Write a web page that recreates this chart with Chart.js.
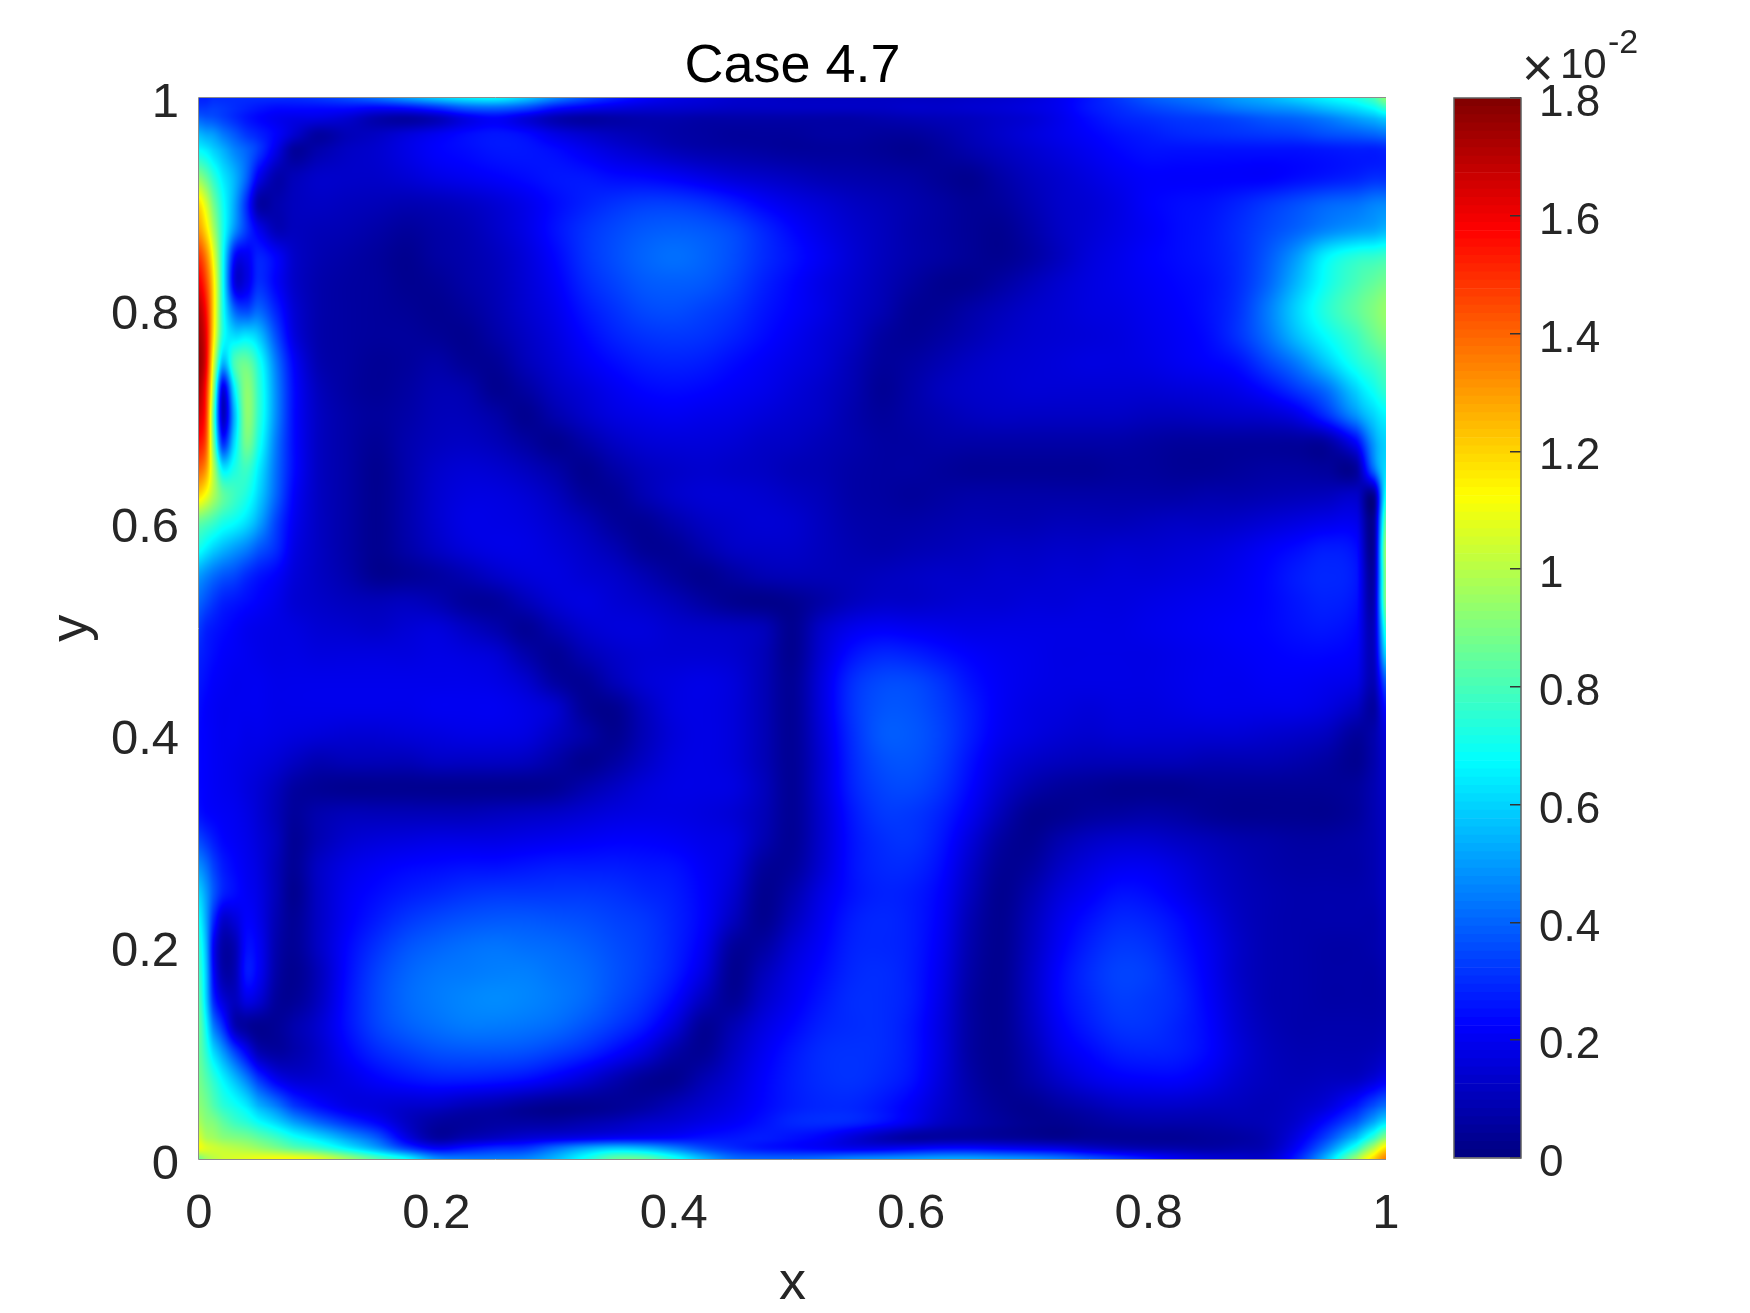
<!DOCTYPE html>
<html>
<head>
<meta charset="utf-8">
<title>Case 4.7</title>
<script src="https://cdn.jsdelivr.net/npm/chart.js@4"></script>
<style>
html, body { margin: 0; padding: 0; background: #fff; }
#page { position: relative; width: 1750px; height: 1313px; overflow: hidden; font-family: "Liberation Sans", Arial, sans-serif; }
canvas { position: absolute; left: 0; top: 0; }
.mult { position: absolute; color: #262626; line-height: 1; white-space: nowrap; }
</style>
</head>
<body>
<div id="page">
<canvas id="field-chart" width="1750" height="1313"></canvas>
<canvas id="bar-chart" width="1750" height="1313"></canvas>
<span class="mult" style="left:1522px;top:40px;font-size:54px;">×</span>
<span class="mult" style="left:1560px;top:43px;font-size:42px;">10</span>
<span class="mult" style="left:1608px;top:24px;font-size:34px;">-2</span>
</div>
<script>
var titleText = 'Case 4.7';
var xLabel = 'x';
var yLabel = 'y';
var xTicks = [0, 0.2, 0.4, 0.6, 0.8, 1];
var yTicks = [0, 0.2, 0.4, 0.6, 0.8, 1];
var barTicks = [0, 0.2, 0.4, 0.6, 0.8, 1, 1.2, 1.4, 1.6, 1.8];

var gridX = [0, .006, .012, .02, .03, .04, .05, .065, .08, .1,
    .125, .15, .175, .2, .225, .25, .275, .3, .325, .35,
    .375, .4, .425, .45, .475, .5, .525, .55, .575, .6,
    .625, .65, .675, .7, .725, .75, .775, .8, .825, .85,
    .875, .9, .925, .95, .975, .99, 1];
var gridY = [1, .99, .98, .965, .95, .925, .9, .875, .85, .825, .8, .775, .75, .725, .7, .675, .65, .625, .6, .575, .55, .525,
    .5, .475, .45, .425, .4, .375, .35, .325, .3, .275, .25, .225, .2, .175, .15, .125, .1, .075, .05, .035, .02, .01, 0];

// values, in units of 1e-4 (colorbar 1.8 x 10^-2 = 180)
var fieldRows = [
[28,28,30,30,30,30,30,30,30,32, 36,42,50,58,64,66,58,46,36,28, 22,18,16,14,13,12,12,12,12,12, 12,13,14,16,20,26,32,38,42,45, 50,54,60,66,72,80,92],
[32,32,33,32,30,28,26,24,24,24, 24,22,24,30,38,40,35,25,20,17, 15,14,13,12,12,12,12,12,12,13, 13,14,15,17,20,26,30,34,37,40, 44,47,50,56,62,68,76],
[40,38,37,34,30,26,23,20,18,17, 14,8,6,10,18,22,16,9,6,7, 8,8,7,7,7,7,7,7,8,9, 10,11,13,15,19,24,28,30,32,33, 35,38,40,44,50,54,58],
[55,52,50,44,38,32,28,22,14,6, 10,12,16,20,24,26,24,18,14,11, 9,7,6,5,5,5,6,6,5,5, 7,10,13,16,19,22,25,27,29,30, 31,32,33,36,38,40,42],
[68,65,60,54,46,40,32,18,5,8, 12,14,18,22,24,26,26,24,20,16, 13,10,8,7,6,5,5,5,4,3, 5,8,11,14,17,20,23,25,25,25, 25,25,25,26,27,27,28],
[92,85,75,64,54,40,20,8,10,13, 13,13,15,18,20,22,24,26,26,24, 23,21,18,15,13,11,9,8,7,6, 4,3,7,11,14,17,20,22,22,22, 22,22,24,26,28,30,30],
[118,105,88,70,52,30,7,8,11,12, 11,10,9,10,12,15,19,24,28,31, 33,33,31,27,22,18,15,12,10,8, 6,4,5,9,13,15,18,22,24,25, 28,32,36,40,42,45,46],
[130,118,98,72,48,32,20,10,11,10, 9,7,5,7,9,13,18,25,31,35, 38,39,38,35,29,23,18,14,11,8, 6,4,3,7,12,15,18,21,24,26, 30,35,40,46,50,52,55],
[148,135,110,70,24,20,28,22,13,9, 7,5,3,6,8,11,16,23,31,36, 40,42,40,36,30,25,20,15,11,8, 6,4,3,6,11,16,19,22,24,26, 30,38,50,66,74,76,78],
[160,146,118,70,18,18,30,22,13,8, 6,5,3,4,7,10,15,21,29,34, 38,39,38,34,28,23,18,14,10,6, 3,3,6,10,14,17,19,21,23,25, 30,40,55,70,80,85,88],
[170,155,120,72,40,34,40,28,15,8, 6,5,4,3,5,9,14,19,26,31, 35,36,34,31,26,22,18,13,9,4, 4,7,10,13,15,17,18,20,22,25, 31,44,60,74,84,90,94],
[174,160,118,72,62,64,58,36,17,8, 6,5,5,4,3,7,12,17,23,28, 31,32,31,28,24,20,16,12,6,4, 6,9,12,14,15,16,17,19,21,24, 31,42,56,68,78,86,90],
[176,160,108,55,80,86,72,44,22,9, 6,4,5,7,4,4,10,15,20,24, 27,28,27,24,21,18,15,10,5,6, 9,12,14,15,16,17,17,18,20,22, 25,34,44,58,72,78,82],
[172,152,95,18,65,92,76,47,24,11, 6,4,6,9,8,3,6,12,16,20, 23,24,23,21,19,16,13,9,4,7, 11,13,14,15,15,15,15,15,16,17, 19,24,32,42,60,70,76],
[165,148,85,12,55,92,76,47,24,12, 7,5,7,10,10,7,3,8,13,17, 19,20,19,18,16,14,12,8,5,7, 9,11,12,12,12,12,12,11,11,12, 13,14,18,30,48,60,66],
[155,142,90,30,62,88,72,44,24,12, 7,4,8,11,12,10,6,3,7,12, 15,16,16,15,13,12,10,8,6,6, 7,7,7,7,7,7,7,6,5,5, 5,5,5,6,22,50,60],
[140,130,100,65,72,78,65,42,24,12, 7,3,8,13,15,14,11,7,3,7, 11,13,14,13,12,10,9,7,6,6, 5,4,4,4,4,4,5,5,4,4, 5,6,6,5,5,42,62],
[118,110,98,85,78,72,60,40,22,12, 7,3,8,14,17,17,15,11,5,4, 9,13,15,15,14,12,10,7,6,5, 6,7,7,7,7,7,7,7,7,8, 8,9,10,11,13,4,70],
[85,82,78,72,68,62,52,34,20,12, 7,3,8,14,18,18,17,14,10,5, 4,8,12,14,15,14,11,8,7,7, 8,9,9,9,10,10,10,11,12,12, 13,15,17,19,19,5,85],
[70,65,60,55,50,45,38,30,18,12, 7,3,7,12,16,18,18,16,13,9, 4,4,8,12,13,13,11,9,8,9, 10,11,12,12,13,13,14,14,15,16, 18,21,24,27,24,6,95],
[50,46,42,38,35,30,26,22,16,12, 8,3,4,6,9,13,16,17,15,13, 9,5,3,6,9,10,10,10,11,12, 13,13,14,14,15,15,16,16,17,18, 20,23,27,29,26,8,92],
[40,36,32,28,26,24,22,19,15,13, 11,10,11,9,5,5,10,15,17,15, 13,10,6,3,2,3,7,11,13,13, 14,15,15,16,16,17,17,18,19,20, 21,23,26,28,25,10,90],
[32,28,26,24,22,20,19,18,17,15, 14,13,15,16,12,8,4,9,14,16, 16,14,13,12,10,3,13,19,21,20, 19,18,18,18,18,18,18,19,20,21, 22,23,25,26,23,12,75],
[28,26,24,22,21,20,19,18,18,17, 17,17,17,18,17,15,8,4,9,13, 15,15,15,14,10,3,15,25,29,28, 25,22,20,19,18,18,18,18,19,20, 21,22,23,23,21,12,60],
[26,24,22,21,20,20,20,19,19,19, 19,19,19,19,19,18,14,6,4,10, 15,17,18,16,10,4,17,30,35,35, 31,25,21,19,18,18,18,18,19,20, 20,21,21,20,18,10,38],
[24,22,21,20,20,20,20,19,19,19, 19,19,19,20,20,20,18,14,4,3, 11,17,18,16,10,4,17,31,37,37, 33,27,21,18,17,16,17,17,18,19, 19,19,19,17,12,6,24],
[23,22,21,20,20,19,19,18,17,16, 15,15,16,17,18,18,17,12,7,3, 10,16,18,16,10,4,16,30,38,38, 34,27,20,17,15,14,15,15,15,15, 15,14,13,11,5,8,16],
[23,22,21,20,19,18,17,15,12,9, 10,10,10,12,12,12,11,7,3,6, 12,17,18,16,10,4,15,29,36,37, 33,25,17,13,11,10,10,10,10,9, 9,9,8,6,3,8,14],
[23,22,21,20,19,17,15,11,6,4, 3,3,3,3,3,3,3,4,8,12, 16,18,18,17,11,4,15,28,34,35, 31,23,14,8,5,4,3,3,3,4, 4,4,4,4,5,9,13],
[25,23,22,21,20,18,15,10,5,8, 10,10,10,10,10,11,12,13,15,17, 18,18,17,15,10,4,14,26,32,32, 28,20,10,3,3,5,6,7,6,4, 3,3,3,3,5,9,12],
[35,31,27,23,21,19,16,11,4,9, 14,16,17,18,18,18,19,20,21,22, 22,21,19,17,9,4,14,25,30,31, 26,16,6,3,8,12,14,14,12,10, 8,7,6,6,7,9,12],
[48,42,34,27,23,20,17,10,4,12, 18,21,23,24,25,25,26,27,27,27, 26,25,21,16,5,5,15,25,29,29, 24,13,4,5,12,17,20,20,17,13, 10,8,7,7,7,9,12],
[60,50,38,28,24,21,18,10,3,12, 20,24,27,29,31,32,32,32,32,31, 29,27,22,14,3,8,18,25,28,27, 22,11,3,8,16,21,25,24,20,15, 11,9,8,8,8,9,12],
[68,52,30,14,16,22,19,9,4,12, 21,27,32,35,37,38,38,37,36,34, 32,28,22,11,3,11,20,27,29,27, 21,9,3,10,19,25,29,28,24,18, 12,9,8,8,8,8,11],
[74,55,22,7,9,24,21,8,4,12, 23,31,37,40,42,43,42,41,39,36, 33,28,20,5,6,15,22,28,29,27, 20,8,3,11,21,28,32,31,26,20, 13,9,8,7,7,8,10],
[78,58,24,8,9,26,21,7,3,10, 24,34,40,43,44,45,45,43,41,37, 33,27,17,3,10,18,24,29,30,27, 19,7,3,12,23,30,34,33,28,21, 13,9,8,7,7,7,9],
[82,60,30,16,11,18,15,5,4,11, 25,35,41,44,46,47,46,44,41,36, 31,23,11,4,13,20,26,30,30,27, 18,6,3,12,23,29,33,32,29,22, 14,9,8,7,7,7,8],
[85,68,45,30,10,5,3,4,8,14, 25,34,39,42,44,44,43,41,37,32, 26,16,4,9,17,23,28,30,30,26, 17,6,3,11,21,27,31,31,28,23, 15,10,8,8,8,8,9],
[85,75,62,50,35,22,10,6,8,13, 22,29,33,36,37,37,36,33,29,23, 16,7,4,12,20,26,30,31,30,26, 17,6,3,9,18,23,27,28,27,23, 16,11,9,9,9,10,12],
[88,82,75,66,56,45,32,20,15,15, 18,22,25,27,27,26,24,20,15,9, 4,3,9,15,22,27,30,31,29,25, 16,7,3,7,13,18,21,22,22,19, 14,11,10,11,12,16,20],
[92,88,82,75,70,64,54,44,32,24, 18,16,14,13,10,8,5,3,3,4, 6,10,14,18,23,27,29,29,26,21, 14,8,4,3,6,9,12,13,13,12, 11,10,12,16,26,36,42],
[97,92,90,84,78,74,68,60,50,40, 30,22,12,6,5,6,6,6,8,10, 13,15,18,21,25,29,30,29,25,19, 12,8,5,3,3,5,7,8,8,8, 9,10,14,24,38,52,62],
[105,98,96,92,90,88,84,78,70,62, 50,38,18,6,9,12,15,17,19,21, 22,23,25,26,27,25,22,16,10,6, 6,6,5,4,3,4,4,4,4,5, 6,9,18,34,56,76,92],
[110,106,104,102,100,98,95,90,84,78, 66,52,34,22,26,30,32,42,52,58, 55,46,36,30,26,24,22,20,20,22, 24,24,22,20,18,14,11,9,8,7, 8,10,22,44,74,100,118],
[88,96,100,104,106,108,110,112,112,108, 96,82,68,48,44,44,46,55,70,85, 85,72,55,42,40,40,42,46,48,50, 52,52,50,48,44,38,32,26,20,16, 14,14,28,56,95,120,135]
];

var barLevels = 128;
var maxValue = 1.8;

function ramp(t, c) {
    return Math.round(255 * Math.max(0, Math.min(1, 1.5 - Math.abs(t - c))));
}

function cssColor(value) {
    var t = value / maxValue * 4;
    return 'rgb(' + ramp(t, 3) + ',' + ramp(t, 2) + ',' + ramp(t, 1) + ')';
}

function cubicWeights(f) {
    return [-0.5 * f + f * f - 0.5 * f * f * f,
        1 - 2.5 * f * f + 1.5 * f * f * f,
        0.5 * f + 2 * f * f - 1.5 * f * f * f,
        -0.5 * f * f + 0.5 * f * f * f];
}

function clampIndex(i, n) {
    return i < 0 ? 0 : (i > n - 1 ? n - 1 : i);
}

var cellPoints = [];
gridY.forEach(function(y, j) {
    gridX.forEach(function(x, i) {
        cellPoints.push({ x: x, y: y, v: fieldRows[j][i] / 100 });
    });
});

// matlab "shading interp": every pixel is looked up through the chart scales
var shadingPlugin = {
    id: 'shading',
    afterDatasetsDraw: function(chart) {
        var area = chart.chartArea;
        var left = Math.round(area.left);
        var top = Math.round(area.top);
        var w = Math.round(area.right) - left;
        var h = Math.round(area.bottom) - top;
        var img = chart.ctx.createImageData(w, h);
        var xIndex = [], xWeights = [];
        for (var px = 0; px < w; px++) {
            var vx = chart.scales.x.getValueForPixel(left + px + 0.5);
            var a = 0;
            while (a < gridX.length - 2 && gridX[a + 1] < vx) a++;
            xIndex.push(a);
            xWeights.push(cubicWeights((vx - gridX[a]) / (gridX[a + 1] - gridX[a])));
        }
        var nx = gridX.length, ny = gridY.length;
        var n = 0;
        for (var py = 0; py < h; py++) {
            var vy = chart.scales.y.getValueForPixel(top + py + 0.5);
            var b = 0;
            while (b < ny - 2 && gridY[b + 1] > vy) b++;
            var wy = cubicWeights((gridY[b] - vy) / (gridY[b] - gridY[b + 1]));
            for (var q = 0; q < w; q++) {
                var k = xIndex[q], wx = xWeights[q], sum = 0;
                for (var r = 0; r < 4; r++) {
                    var row = fieldRows[clampIndex(b - 1 + r, ny)];
                    sum += wy[r] * (wx[0] * row[clampIndex(k - 1, nx)] + wx[1] * row[k] +
                        wx[2] * row[k + 1] + wx[3] * row[clampIndex(k + 2, nx)]);
                }
                var t = sum / 100 / maxValue * 4;
                img.data[n++] = ramp(t, 3);
                img.data[n++] = ramp(t, 2);
                img.data[n++] = ramp(t, 1);
                img.data[n++] = 255;
            }
        }
        chart.ctx.putImageData(img, left, top);

        var ctx = chart.ctx;
        ctx.save();
        ctx.strokeStyle = '#8c8c8c';
        ctx.lineWidth = 1;
        ctx.beginPath();
        ctx.moveTo(area.right, top - 0.5);
        ctx.lineTo(left - 0.5, top - 0.5);
        ctx.lineTo(left - 0.5, top + h + 0.5);
        ctx.lineTo(area.right, top + h + 0.5);
        ctx.stroke();
        ctx.restore();
    }
};

// an empty first line pushes the tick text down to where matlab puts it
function lowTick(v) {
    return ['', String(v)];
}

new Chart(document.getElementById('field-chart').getContext('2d'), {
    type: 'scatter',
    data: {
        datasets: [{
            label: 'field',
            data: cellPoints,
            pointStyle: 'rect',
            pointRadius: 5,
            borderWidth: 0,
            backgroundColor: function(ctx) {
                return ctx.raw ? cssColor(ctx.raw.v) : '#00008f';
            }
        }]
    },
    plugins: [shadingPlugin],
    options: {
        responsive: false,
        animation: false,
        layout: { padding: { left: 0, right: 364, top: 0, bottom: 0 } },
        plugins: {
            legend: { display: false },
            tooltip: { enabled: false },
            title: {
                display: true,
                text: titleText,
                fullSize: false,
                color: '#000',
                font: { family: '"Liberation Sans"', size: 54, weight: 'normal', lineHeight: 1.2 },
                padding: { top: 35, bottom: -2.3 }
            }
        },
        scales: {
            x: {
                type: 'linear',
                min: 0,
                max: 1,
                afterBuildTicks: function(scale) {
                    scale.ticks = xTicks.map(function(v) { return { value: v }; });
                },
                afterFit: function(scale) { scale.height = 154; },
                grid: { display: false },
                border: { display: false },
                ticks: {
                    color: '#262626',
                    padding: 18,
                    maxRotation: 0,
                    font: { family: '"Liberation Sans"', size: 49 },
                    callback: function(v) { return String(v); }
                },
                title: {
                    display: true,
                    text: xLabel,
                    color: '#262626',
                    font: { family: '"Liberation Sans"', size: 54, lineHeight: 1.2 },
                    padding: { top: 0, bottom: -4 }
                }
            },
            y: {
                type: 'linear',
                min: 0,
                max: 1,
                afterBuildTicks: function(scale) {
                    scale.ticks = yTicks.map(function(v) { return { value: v }; });
                },
                afterFit: function(scale) { scale.width = 199; },
                grid: { display: false },
                border: { display: false },
                ticks: {
                    color: '#262626',
                    padding: 12,
                    font: { family: '"Liberation Sans"', size: 49, lineHeight: 0.25 },
                    callback: lowTick
                },
                title: {
                    display: true,
                    text: yLabel,
                    color: '#262626',
                    font: { family: '"Liberation Sans"', size: 54, lineHeight: 1.2 },
                    padding: { top: 39.5, bottom: 0 }
                }
            }
        }
    }
});

// colorbar: one floating bar per colormap level
var barDatasets = [];
for (var level = 0; level < barLevels; level++) {
    var lo = level * maxValue / barLevels;
    var hi = (level + 1) * maxValue / barLevels;
    barDatasets.push({
        data: [[lo, hi]],
        backgroundColor: cssColor((lo + hi) / 2),
        borderWidth: 0,
        grouped: false,
        barPercentage: 1,
        categoryPercentage: 1
    });
}

var barFramePlugin = {
    id: 'barFrame',
    afterDraw: function(chart) {
        var area = chart.chartArea;
        var ctx = chart.ctx;
        ctx.save();
        ctx.strokeStyle = '#5f5f5f';
        ctx.lineWidth = 1.5;
        ctx.strokeRect(area.left, area.top, area.right - area.left, area.bottom - area.top);
        ctx.restore();
    }
};

new Chart(document.getElementById('bar-chart').getContext('2d'), {
    type: 'bar',
    data: { labels: [''], datasets: barDatasets },
    plugins: [barFramePlugin],
    options: {
        responsive: false,
        animation: false,
        layout: { padding: { left: 1454, right: 129, top: 98, bottom: 155 } },
        plugins: { legend: { display: false }, tooltip: { enabled: false }, title: { display: false } },
        scales: {
            x: { display: false },
            y: {
                type: 'linear',
                position: 'right',
                min: 0,
                max: maxValue,
                afterBuildTicks: function(scale) {
                    scale.ticks = barTicks.map(function(v) { return { value: v }; });
                },
                afterFit: function(scale) { scale.width = 100; },
                grid: { z: 1, drawOnChartArea: false, drawTicks: true, tickLength: -11, color: '#333', lineWidth: 1.5 },
                border: { display: false },
                ticks: {
                    color: '#262626',
                    padding: 29,
                    font: { family: '"Liberation Sans"', size: 44, lineHeight: 0.27 },
                    callback: lowTick
                }
            }
        }
    }
});
</script>
</body>
</html>
